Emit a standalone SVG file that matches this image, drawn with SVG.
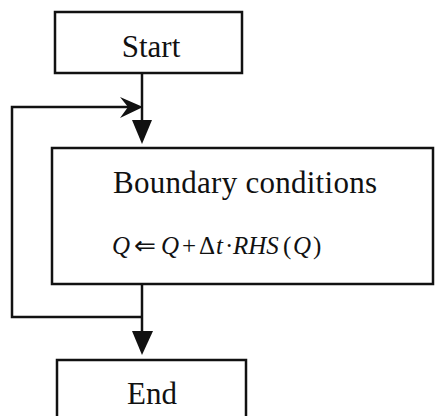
<svg xmlns="http://www.w3.org/2000/svg" width="435" height="416" viewBox="0 0 435 416">
<style>
.box{fill:#fff;stroke:#111;stroke-width:2.5}
.ln{fill:none;stroke:#111;stroke-width:2.5}
.ah{fill:#111;stroke:none}
.t{font-family:"Liberation Serif","Times New Roman",serif;fill:#111}
.lbl{font-size:31px}
.m{font-size:25px}
.i{font-style:italic}
</style>
<rect width="435" height="416" fill="#fff"/>
<g id="connectors">
<path class="ln" d="M142,73 V122"/>
<path class="ln" d="M142,284 V333"/>
<path class="ln" d="M142,317 H12 V107 H136"/>
<path class="ah" d="M132,120 L152,120 L142,144 Z"/>
<path class="ah" d="M132,331 L153,331 L142,355 Z"/>
<path class="ah" d="M143,107 L120,97 L128,107 L120,118 Z"/>
</g>
<g id="start">
<rect class="box" x="55" y="12" width="187" height="61"/>
<text class="t lbl" x="151" y="57" text-anchor="middle">Start</text>
</g>
<g id="update">
<rect class="box" x="52" y="148" width="381" height="136"/>
<text class="t lbl" x="113" y="193" textLength="264" lengthAdjust="spacing">Boundary conditions</text>
<text class="t m" y="254"><tspan class="i" x="112">Q</tspan><tspan x="134" textLength="22" lengthAdjust="spacingAndGlyphs">⇐</tspan><tspan class="i" x="161">Q</tspan><tspan x="182">+</tspan><tspan x="199">Δ</tspan><tspan class="i" x="216">t</tspan><tspan x="225">·</tspan><tspan class="i" x="233">RHS</tspan><tspan x="283">(</tspan><tspan class="i" x="293">Q</tspan><tspan x="313">)</tspan></text>
</g>
<g id="end">
<rect class="box" x="57" y="360" width="189" height="70"/>
<text class="t lbl" x="152" y="404" text-anchor="middle">End</text>
</g>
</svg>
